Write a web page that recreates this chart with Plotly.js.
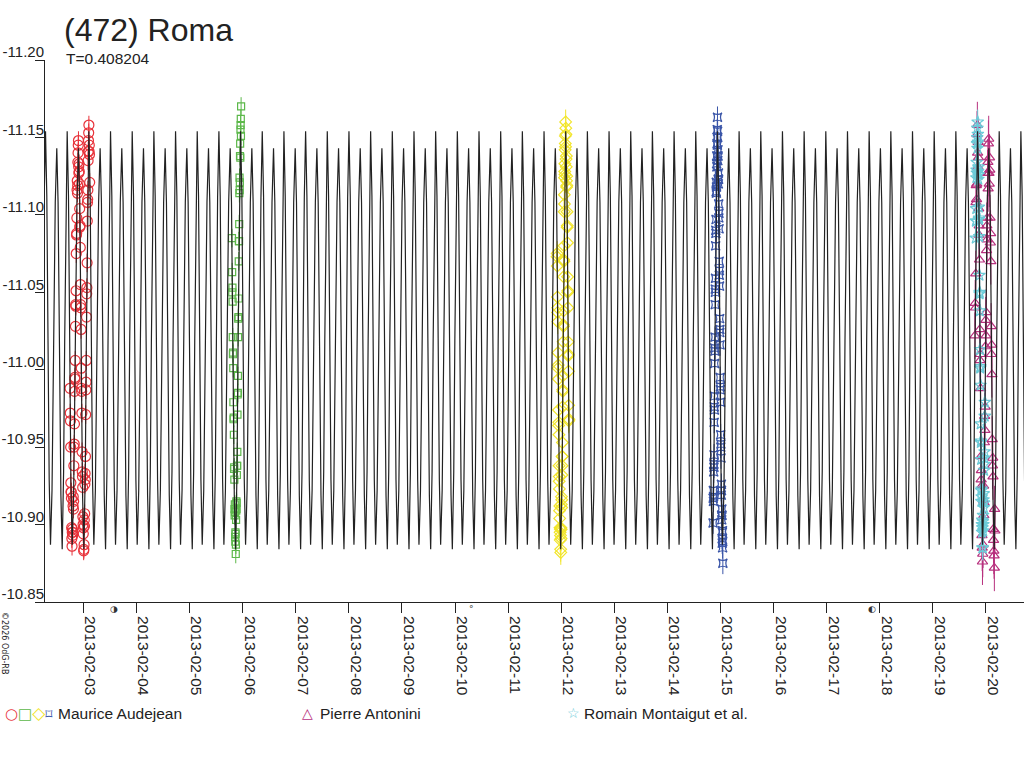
<!DOCTYPE html>
<html>
<head>
<meta charset="utf-8">
<script src="https://cdn.plot.ly/plotly-3.0.1.min.js"></script>
<style>html,body{margin:0;padding:0;background:#fff;}#chart{width:1024px;height:768px;}</style>
</head>
<body>
<div id="chart"></div>
<script>
// ---------- data (times are reduced JD = JD - 2456300) ----------
const JD_BASE = 2456300;
const titleText = "(472) Roma";
const period = 0.408204;              // days
const epochMax = 25.788;              // reduced JD of a primary maximum
// one period of the light curve (phase, magnitude)
const shapePhase = [0.000, 0.060, 0.115, 0.170, 0.230, 0.300, 0.375, 0.450, 0.520, 0.580, 0.645, 0.710, 0.770, 0.835, 0.885, 0.940];
const shapeMag   = [-11.154, -11.112, -11.020, -10.929, -10.887, -10.922, -11.015, -11.108, -11.143, -11.108, -11.014, -10.919, -10.884, -10.934, -11.019, -11.111];

const observers = ["Maurice Audejean", "Pierre Antonini", "Romain Montaigut et al."];

// Maurice Audejean, 2013-02-02/03 (circles)
const redT = [26.2500,26.2538,26.2576,26.2614,26.2651,26.2689,26.2727,26.2765,26.2802,26.2840,
  26.2878,26.2916,26.2953,26.2991,26.3029,26.3067,26.3104,26.3142,26.3180,26.3218,
  26.3255,26.3293,26.3331,26.3369,26.3406,26.3444,26.3482,26.3520,26.3557,26.3595,
  26.3633,26.3671,26.3708,26.3746,26.3784,26.3822,26.3859,26.3897,26.3935,26.3973,
  26.4010,26.4048,26.4086,26.4124,26.4161,26.4199,26.4237,26.4275,26.4312,26.4350,
  26.4388,26.4426,26.4463,26.4501,26.4539,26.4577,26.4614,26.4652,26.4690,26.4728,
  26.4765,26.4803,26.4841,26.4879,26.4916,26.4954,26.4992,26.5030,26.5067,26.5105,
  26.5143,26.5181,26.5218,26.5256,26.5294,26.5332,26.5369,26.5407,26.5445,26.5483,
  26.5520,26.5558,26.5596,26.5634,26.5671,26.5709,26.5747,26.5785,26.5822,26.5860,
  26.5898,26.5936,26.5973,26.6011,26.6049,26.6087,26.6124,26.6162,26.6200];
const redMag = [-10.988,-10.972,-10.967,-10.950,-10.927,-10.921,-10.921,-10.917,-10.898,-10.891,
  -10.886,-10.895,-10.897,-10.893,-10.895,-10.912,-10.918,-10.910,-10.915,-10.938,
  -10.950,-10.952,-10.965,-10.986,-10.995,-10.994,-11.006,-11.028,-11.042,-11.041,
  -11.051,-11.075,-11.087,-11.088,-11.098,-11.116,-11.122,-11.114,-11.119,-11.134,
  -11.140,-11.145,-11.148,-11.131,-11.127,-11.133,-11.128,-11.120,-11.104,-11.092,
  -11.093,-11.079,-11.055,-11.042,-11.040,-11.026,-11.001,-10.988,-10.986,-10.972,
  -10.947,-10.934,-10.931,-10.924,-10.905,-10.900,-10.894,-10.898,-10.883,-10.884,
  -10.887,-10.903,-10.899,-10.907,-10.926,-10.933,-10.929,-10.944,-10.971,-10.987,
  -10.992,-11.006,-11.034,-11.049,-11.053,-11.069,-11.096,-11.108,-11.110,-11.116,
  -11.135,-11.141,-11.148,-11.153,-11.158,-11.141,-11.145,-11.139,-11.121];
const redErr = 0.006;

// Maurice Audejean, 2013-02-05/06 (squares)
const greenT = [29.3000,29.3030,29.3059,29.3089,29.3118,29.3148,29.3178,29.3208,29.3237,29.3267,
  29.3296,29.3326,29.3355,29.3385,29.3414,29.3444,29.3474,29.3504,29.3533,29.3563,
  29.3592,29.3622,29.3651,29.3681,29.3710,29.3740,29.3770,29.3800,29.3829,29.3859,
  29.3888,29.3918,29.3947,29.3977,29.4006,29.4036,29.4066,29.4096,29.4125,29.4155,
  29.4184,29.4214,29.4243,29.4273,29.4302,29.4332,29.4362,29.4392,29.4421,29.4451,
  29.4480,29.4510,29.4539,29.4569,29.4598,29.4628,29.4658,29.4688,29.4717];
const greenMag = [-11.085,-11.063,-11.050,-11.053,-11.044,-11.021,-11.010,-11.011,-11.001,-10.979,
  -10.968,-10.969,-10.958,-10.936,-10.937,-10.929,-10.910,-10.906,-10.913,-10.908,
  -10.892,-10.889,-10.895,-10.894,-10.881,-10.887,-10.903,-10.909,-10.915,-10.910,
  -10.914,-10.932,-10.938,-10.938,-10.947,-10.971,-10.984,-10.985,-10.996,-11.021,
  -11.033,-11.034,-11.046,-11.070,-11.083,-11.083,-11.094,-11.114,-11.124,-11.116,
  -11.121,-11.138,-11.146,-11.137,-11.155,-11.158,-11.162,-11.151,-11.170];
const greenErr = 0.006;

// Maurice Audejean, 2013-02-11/12 (diamonds)
const yellowT = [35.4210,35.4236,35.4261,35.4287,35.4312,35.4338,35.4363,35.4389,35.4414,35.4440,
  35.4465,35.4491,35.4516,35.4542,35.4567,35.4593,35.4618,35.4644,35.4669,35.4695,
  35.4720,35.4746,35.4771,35.4797,35.4822,35.4848,35.4873,35.4899,35.4924,35.4950,
  35.4975,35.5001,35.5026,35.5052,35.5077,35.5103,35.5128,35.5154,35.5179,35.5205,
  35.5231,35.5257,35.5282,35.5308,35.5333,35.5359,35.5384,35.5410,35.5435,35.5461,
  35.5486,35.5512,35.5537,35.5563,35.5588,35.5614,35.5639,35.5665,35.5690,35.5716,
  35.5741,35.5767,35.5792,35.5818,35.5843,35.5869,35.5894,35.5920,35.5945,35.5971,
  35.5996,35.6022,35.6047,35.6073,35.6098,35.6124,35.6149,35.6175,35.6200,35.6226,
  35.6251,35.6277,35.6302,35.6328,35.6353,35.6379,35.6404,35.6430,35.6455];
const yellowMag = [-11.073,-11.075,-11.067,-11.047,-11.037,-11.040,-11.031,-11.011,-11.001,-11.003,
  -10.994,-10.974,-10.964,-10.966,-10.958,-10.938,-10.928,-10.931,-10.923,-10.909,
  -10.904,-10.912,-10.898,-10.895,-10.890,-10.897,-10.893,-10.884,-10.882,-10.898,
  -10.891,-10.897,-10.913,-10.918,-10.911,-10.916,-10.932,-10.938,-10.944,-10.944,
  -10.953,-10.976,-10.987,-10.986,-10.996,-11.018,-11.029,-11.028,-11.038,-11.060,
  -11.071,-11.070,-11.080,-11.102,-11.113,-11.107,-11.124,-11.128,-11.133,-11.126,
  -11.142,-11.146,-11.151,-11.144,-11.160,-11.156,-11.152,-11.136,-11.131,-11.138,
  -11.122,-11.118,-11.125,-11.119,-11.102,-11.092,-11.093,-11.082,-11.060,-11.050,
  -11.051,-11.040,-11.018,-11.009,-11.010,-10.999,-10.977,-10.967,-10.968];
const yellowErr = 0.008;

// Maurice Audejean, 2013-02-14/15 (star-squares)
const blueT = [38.3607,38.3630,38.3653,38.3676,38.3699,38.3722,38.3745,38.3768,38.3791,38.3814,
  38.3837,38.3860,38.3883,38.3906,38.3928,38.3951,38.3974,38.3997,38.4020,38.4043,
  38.4066,38.4089,38.4112,38.4135,38.4158,38.4181,38.4204,38.4227,38.4250,38.4273,
  38.4296,38.4319,38.4342,38.4365,38.4388,38.4411,38.4434,38.4457,38.4480,38.4503,
  38.4525,38.4548,38.4571,38.4594,38.4617,38.4640,38.4663,38.4686,38.4709,38.4732,
  38.4755,38.4778,38.4801,38.4824,38.4847,38.4870,38.4893,38.4916,38.4939,38.4962,
  38.4985,38.5008,38.5031,38.5054,38.5077,38.5100,38.5123,38.5146,38.5169,38.5192,
  38.5214,38.5237,38.5260,38.5283,38.5306,38.5329,38.5352,38.5375,38.5398,38.5421,38.5444];
const blueMag = [-10.901,-10.917,-10.922,-10.915,-10.918,-10.934,-10.939,-10.937,-10.945,-10.966,
  -10.976,-10.974,-10.983,-11.004,-11.014,-11.012,-11.021,-11.042,-11.052,-11.050,
  -11.059,-11.080,-11.090,-11.088,-11.097,-11.115,-11.121,-11.114,-11.118,-11.133,
  -11.138,-11.131,-11.146,-11.150,-11.155,-11.145,-11.163,-11.154,-11.150,-11.135,
  -11.142,-11.138,-11.123,-11.120,-11.127,-11.123,-11.107,-11.098,-11.101,-11.091,
  -11.070,-11.061,-11.064,-11.054,-11.033,-11.024,-11.026,-11.016,-10.995,-10.987,
  -10.989,-10.979,-10.958,-10.950,-10.952,-10.943,-10.922,-10.919,-10.926,-10.922,
  -10.906,-10.903,-10.910,-10.906,-10.891,-10.888,-10.895,-10.896,-10.885,-10.889,-10.875];
const blueErr = 0.007;

// Pierre Antonini, 2013-02-19/20 (triangles)
const magentaT = [43.2918,43.2969,43.3020,43.3071,43.3121,43.3172,43.3223,43.3274,43.3325,43.3376,
  43.3426,43.3477,43.3528,43.3579,43.3629,43.3680,43.3731,43.3782,43.3833,43.3884,
  43.3934,43.3985,43.4036,43.4087,43.4138,43.4189,43.4239,43.4290,43.4341,43.4392,
  43.4443,43.4494,43.4544,43.4595,43.4646,43.4697,43.4747,43.4798,43.4849,43.4900,
  43.4951,43.5002,43.5052,43.5103,43.5154,43.5205,43.5256,43.5307,43.5357,43.5408,
  43.5459,43.5510,43.5561,43.5612,43.5662,43.5713,43.5764,43.5815,43.5865,43.5916,
  43.5967,43.6018,43.6069,43.6120,43.6170,43.6221,43.6272,43.6323,43.6374,43.6425,
  43.6475,43.6526,43.6577,43.6628,43.6679];
const magentaMag = [-11.022,-11.043,-11.040,-11.062,-11.108,-11.119,-11.110,-11.120,-11.152,-11.158,
  -11.140,-11.131,-11.147,-11.137,-11.104,-11.087,-11.093,-11.071,-11.026,-11.006,
  -11.010,-10.988,-10.944,-10.929,-10.935,-10.925,-10.893,-10.885,-10.876,-10.881,
  -10.887,-10.916,-10.925,-10.906,-10.914,-10.953,-10.970,-10.961,-10.976,-11.015,
  -11.032,-11.022,-11.037,-11.077,-11.093,-11.084,-11.098,-11.127,-11.134,-11.117,
  -11.146,-11.149,-11.127,-11.120,-11.137,-11.129,-11.098,-11.082,-11.088,-11.070,
  -11.028,-11.010,-11.016,-10.997,-10.955,-10.938,-10.943,-10.931,-10.897,-10.890,
  -10.883,-10.880,-10.872,-10.910,-10.896];
const magentaErr = 0.015;

// Romain Montaigut et al., 2013-02-19 (stars)
const cyanT = [43.3081,43.3111,43.3140,43.3170,43.3199,43.3229,43.3259,43.3289,43.3318,43.3348,
  43.3377,43.3407,43.3436,43.3466,43.3495,43.3525,43.3555,43.3585,43.3614,43.3644,
  43.3673,43.3703,43.3732,43.3762,43.3791,43.3821,43.3850,43.3880,43.3910,43.3940,
  43.3969,43.3999,43.4028,43.4058,43.4087,43.4117,43.4146,43.4176,43.4206,43.4236,
  43.4265,43.4295,43.4324,43.4354,43.4383,43.4413,43.4442,43.4472,43.4502,43.4532,
  43.4561,43.4591,43.4620,43.4650,43.4679,43.4709,43.4738,43.4768,43.4798];
const cyanMag = [-11.085,-11.096,-11.096,-11.104,-11.124,-11.129,-11.134,-11.127,-11.146,-11.150,
  -11.156,-11.143,-11.160,-11.152,-11.147,-11.128,-11.123,-11.131,-11.126,-11.105,
  -11.097,-11.098,-11.086,-11.061,-11.049,-11.050,-11.038,-11.013,-11.001,-11.002,
  -10.990,-10.965,-10.953,-10.954,-10.942,-10.922,-10.915,-10.923,-10.918,-10.900,
  -10.895,-10.903,-10.898,-10.885,-10.885,-10.902,-10.906,-10.896,-10.900,-10.916,
  -10.920,-10.911,-10.914,-10.935,-10.943,-10.939,-10.947,-10.970,-10.979];
const cyanErr = 0.008;

const xTickLabels = ["2013-02-03","2013-02-04","2013-02-05","2013-02-06","2013-02-07","2013-02-08",
  "2013-02-09","2013-02-10","2013-02-11","2013-02-12","2013-02-13","2013-02-14","2013-02-15",
  "2013-02-16","2013-02-17","2013-02-18","2013-02-19","2013-02-20"];
const yTickVals = [-11.20,-11.15,-11.10,-11.05,-11.00,-10.95,-10.90,-10.85];
const yTickText = ["-11.20","-11.15","-11.10","-11.05","-11.00","-10.95","-10.90","-10.85"];

// moon phases (last quarter, new moon, first quarter)
const moonDates = ["2013-02-03 13:56","2013-02-10 07:20","2013-02-17 20:31"];
const moonSymbols = ["◑","°","◐"];
const xRange = ["2013-02-02 06:41","2013-02-20 17:11"];

// ---------- helpers ----------
function jdToDate(rjd) {
  const ms = Date.UTC(2013,0,1) + (rjd + JD_BASE - 2456293.5) * 86400000;
  return new Date(ms).toISOString().replace('T',' ').replace('Z','');
}
const F = "Liberation Sans, Arial, Helvetica, sans-serif";

// model curve built from the one-period shape and the period T
const modelX = [], modelY = [];
for (let n = -1; n <= 45; n++) {
  for (let k = 0; k < shapePhase.length; k++) {
    modelX.push(jdToDate(epochMax + (n + shapePhase[k]) * period));
    modelY.push(shapeMag[k]);
  }
}

function series(t, m, err, color, symbol, size) {
  return {
    x: t.map(jdToDate), y: m, type: 'scatter', mode: 'markers', showlegend: false,
    marker: {symbol: symbol, size: size, color: color, line: {color: color, width: 1.2}},
    error_y: {type: 'constant', value: err, color: color, thickness: 1, width: 0},
    hoverinfo: 'skip'
  };
}

const C = {red:'#e8323a', green:'#5cb84a', yellow:'#f2e52a', blue:'#3a55a8', magenta:'#b8307e', cyan:'#6ccbd8'};

const traces = [
  series(redT, redMag, redErr, C.red, 'circle-open', 10),
  series(greenT, greenMag, greenErr, C.green, 'square-open', 7),
  series(yellowT, yellowMag, yellowErr, C.yellow, 'diamond-open', 9),
  series(blueT, blueMag, blueErr, C.blue, 'star-square-open', 8),
  series(magentaT, magentaMag, magentaErr, C.magenta, 'triangle-up-open', 9),
  series(cyanT, cyanMag, cyanErr, C.cyan, 'star-open', 9),
  {x: modelX, y: modelY, type: 'scatter', mode: 'lines', showlegend: false,
   line: {color: '#222', width: 1.2}, hoverinfo: 'skip'}
];

// paper-coordinate helpers: plot area x 45..1024, y 60..602
const px = v => (v - 45) / 979;
const py = v => (602 - v) / 542;

const annotations = [
  {xref:'paper', yref:'paper', x: px(64), y: py(58), xanchor:'left', yanchor:'middle', showarrow:false,
   text: 'T=' + period, font:{family:F, size:15.5, color:'#222'}},
  {xref:'paper', yref:'paper', x: px(3), y: py(713), xanchor:'left', yanchor:'middle', showarrow:false,
   text: '<span style="color:'+C.red+'">○</span><span style="color:'+C.green+'">□</span><span style="color:'+C.yellow+';font-size:17px">◇</span><span style="color:'+C.blue+';font-size:14px">⌑</span>',
   font:{family:'DejaVu Sans', size:15}},
  {xref:'paper', yref:'paper', x: px(56), y: py(713), xanchor:'left', yanchor:'middle', showarrow:false,
   text: observers[0], font:{family:F, size:15.5, color:'#222'}},
  {xref:'paper', yref:'paper', x: px(300), y: py(713), xanchor:'left', yanchor:'middle', showarrow:false,
   text: '△', font:{family:'DejaVu Sans', size:14, color:C.magenta}},
  {xref:'paper', yref:'paper', x: px(318), y: py(713), xanchor:'left', yanchor:'middle', showarrow:false,
   text: observers[1], font:{family:F, size:15.5, color:'#222'}},
  {xref:'paper', yref:'paper', x: px(565), y: py(713), xanchor:'left', yanchor:'middle', showarrow:false,
   text: '☆', font:{family:'DejaVu Sans', size:14, color:C.cyan}},
  {xref:'paper', yref:'paper', x: px(582), y: py(713), xanchor:'left', yanchor:'middle', showarrow:false,
   text: observers[2], font:{family:F, size:15.5, color:'#222'}},
  {xref:'paper', yref:'paper', x: px(5), y: py(643), xanchor:'center', yanchor:'middle', showarrow:false,
   textangle: 90, text: '©2026 OdG-RB', font:{family:'DejaVu Sans', size:8, color:'#222'}}
];
moonDates.forEach((d, i) => annotations.push({
  xref:'x', yref:'paper', x: d, y: py(609), xanchor:'center', yanchor:'middle', showarrow:false,
  text: moonSymbols[i], font:{family:'DejaVu Sans', size:9, color:'#333'}
}));

const layout = {
  width: 1024, height: 768,
  margin: {l: 45, r: 0, t: 60, b: 166, pad: 0},
  paper_bgcolor: '#fff', plot_bgcolor: '#fff',
  showlegend: false,
  title: {text: titleText, xref:'container', yref:'container', x: 64/1024, y: 1 - 30/768,
          xanchor:'left', yanchor:'middle', font:{family:F, size:32, color:'#222'}},
  xaxis: {
    type: 'date', range: xRange, showgrid: false, zeroline: false,
    showline: true, linecolor: '#222', linewidth: 1,
    ticks: 'outside', ticklen: 10, tickcolor: '#222', tickwidth: 1,
    tickvals: xTickLabels, ticktext: xTickLabels, tickangle: 90,
    ticklabelshift: 7,
    tickfont: {family: F, size: 15.5, color: '#222'}
  },
  yaxis: {
    range: [-10.85, -11.20], showgrid: false, zeroline: false,
    showline: true, linecolor: '#222', linewidth: 1,
    ticks: 'outside', ticklen: 9, tickcolor: '#222', tickwidth: 1,
    tickvals: yTickVals, ticktext: yTickText,
    ticklabelstandoff: -12, ticklabelshift: 8,
    tickfont: {family: F, size: 15, color: '#222'}
  },
  annotations: annotations
};

Plotly.newPlot('chart', traces, layout, {displayModeBar: false, staticPlot: true});
</script>
</body>
</html>
